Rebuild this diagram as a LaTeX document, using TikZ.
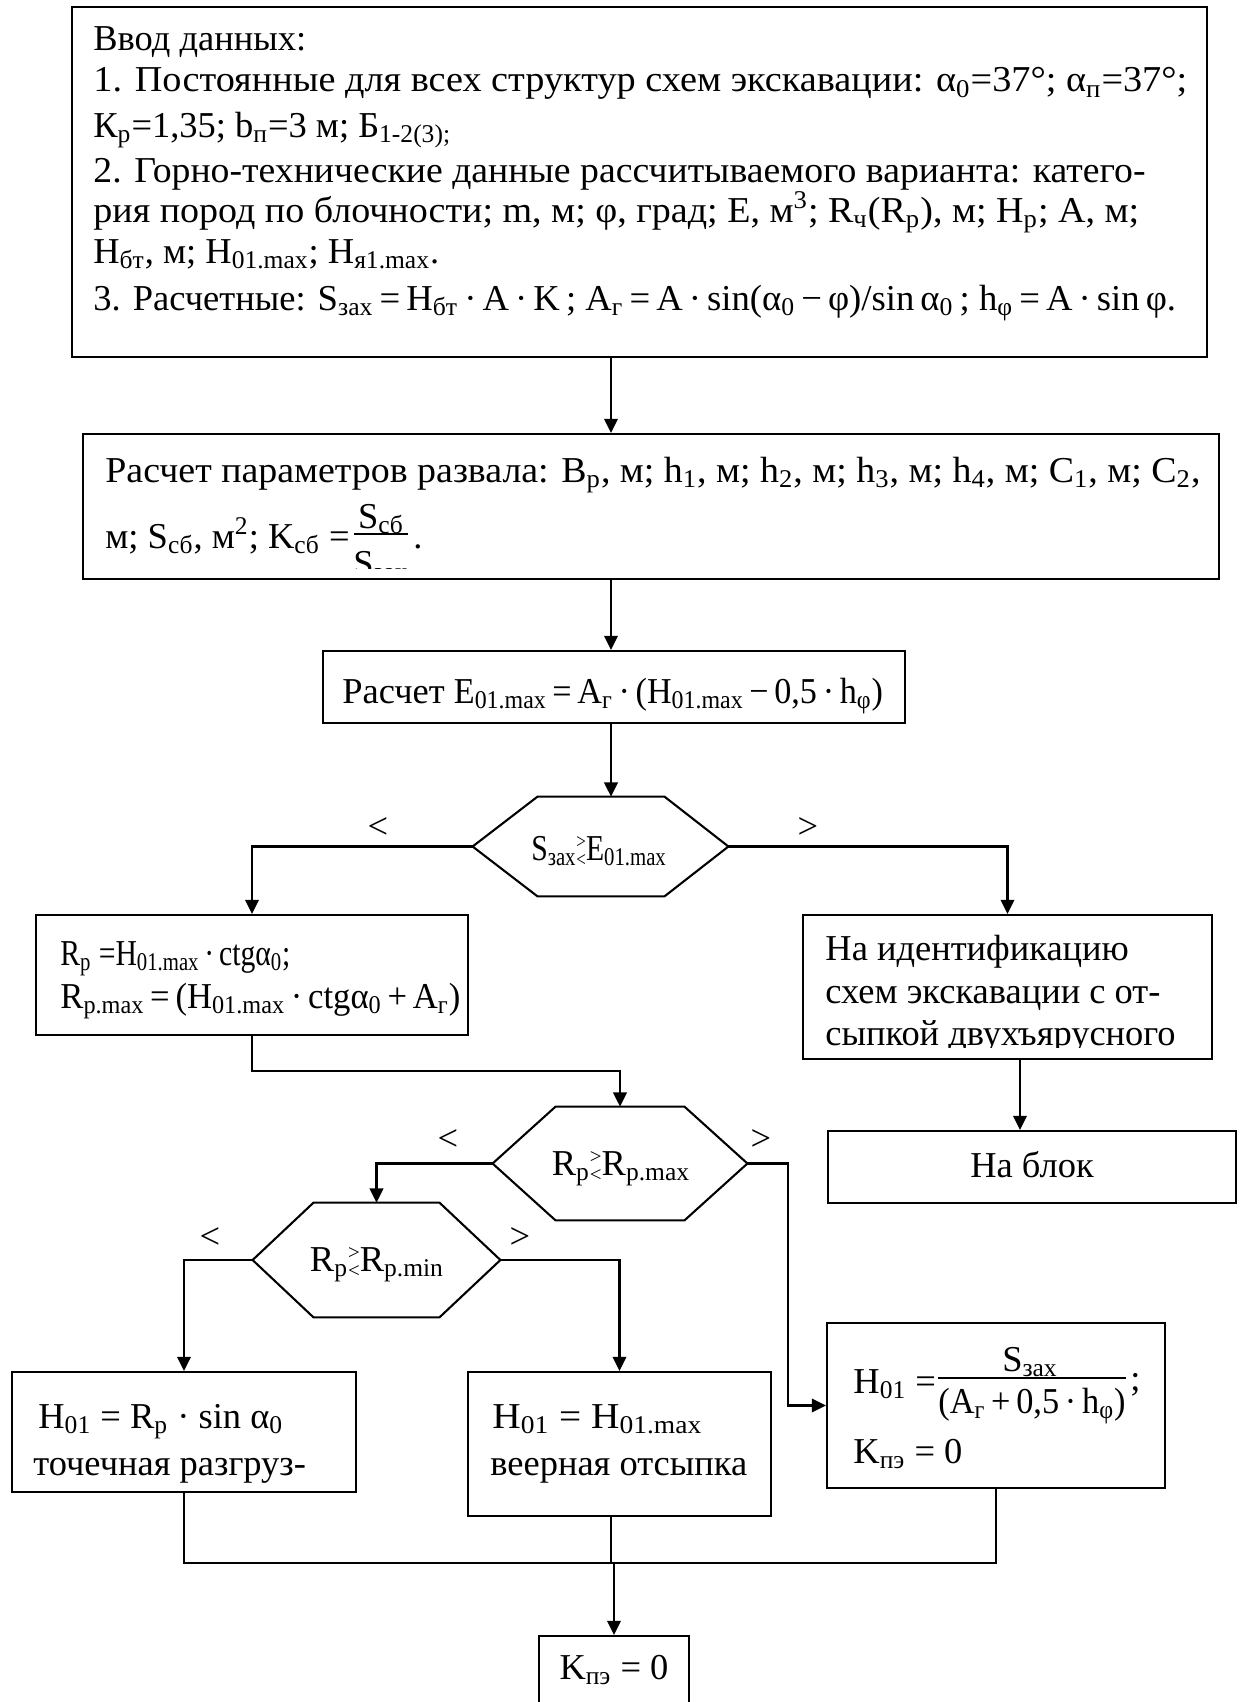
\documentclass[tikz,border=0pt]{standalone}
\usepackage{fontspec}
\setmainfont{Liberation Serif}
\usetikzlibrary{fit,calc,arrows.meta}
\newcommand\sbs[1]{\textsubscript{#1}}
\newcommand\sps[1]{\textsuperscript{#1}}
% stacked comparison sign: ">" above "<"
\newcommand\gtlt{\raisebox{-3.2pt}{\fontsize{10}{10}\selectfont\shortstack{>\\<}}}
% fit a line or formula to a given width, keeping its height
\newcommand\fitw[2]{\resizebox{#1}{\height}{#2}}
\tikzset{
  frame/.style={draw, line width=1pt, inner sep=0pt},
  txt/.style={anchor=base west, inner sep=0pt, font=\fontsize{17.5}{21}\selectfont},
  ctxt/.style={anchor=base, inner sep=0pt, font=\fontsize{17.5}{21}\selectfont},
  conn/.style={line width=1pt},
  thinconn/.style={line width=0.5pt},
  arr/.style={line width=1pt, -{Triangle[length=6.8pt,width=6.5pt]}},
  sign/.style={anchor=center, inner sep=0pt, font=\fontsize{17.5}{21}\selectfont},
}
\begin{document}
\begin{tikzpicture}[x=0.48pt, y=-0.48pt]
\useasboundingbox (0,0) rectangle (1240,1702);
\fill[white] (0,0) rectangle (1240,1702);

% guide columns for off-centre connectors
\coordinate (c1) at (611,0);
\coordinate (v2) at (788,0);
\coordinate (v3) at (1020,0);
\coordinate (j1) at (0,1071);
\coordinate (j2) at (0,1563);

% ---------- input data ----------
\node[frame, fit={(72,7) (1207,357)}] (b1) {};
\node[txt] (t1a) at (93,51)  {Ввод данных:};
\node[txt] (t1b) at (93,92)  {\fitw{525pt}{1. Постоянные для всех структур схем экскавации: α\sbs{0}=37°; α\sbs{п}=37°;}};
\node[txt] (t1c) at (93,137) {К\sbs{р}=1,35; b\sbs{п}=3 м; Б\sbs{1-2(3);}};
\node[txt] (t1d) at (93,182) {\fitw{505pt}{2. Горно-технические данные рассчитываемого варианта: катего-}};
\node[txt] (t1e) at (93,222) {\fitw{502pt}{рия пород по блочности; m, м; φ, град; E, м\sps{3}; R\sbs{ч}(R\sbs{р}), м; H\sbs{р}; A, м;}};
\node[txt] (t1f) at (93,263) {H\sbs{бт}, м; H\sbs{01.max}; H\sbs{я1.max}.};
\node[txt] (t1g) at (93,310) {3. Расчетные: \fitw{412pt}{S\sbs{зах}\,=\,H\sbs{бт}\,·\,A\,·\,K\,; A\sbs{г}\,=\,A\,·\,sin(α\sbs{0}\,−\,φ)/sin\,α\sbs{0}\,; h\sbs{φ}\,=\,A\,·\,sin\,φ.}};

% ---------- pile parameters ----------
\node[frame, fit={(83,434) (1219,579)}] (b2) {};
\node[txt] (t2a) at (105,482) {\fitw{525.6pt}{Расчет параметров развала: B\sbs{р}, м; h\sbs{1}, м; h\sbs{2}, м; h\sbs{3}, м; h\sbs{4}, м; C\sbs{1}, м; C\sbs{2},}};
\node[txt] (t2b) at (105,548) {м; S\sbs{сб}, м\sps{2}; K\sbs{сб} =};
\node[ctxt] (t2n) at (381,528) {S\sbs{сб}};
\draw[line width=0.7pt] (354,534) -- (408,534);
\node[txt] (t2p) at (413,548) {.};
\begin{scope}
  \clip (340,540) rectangle (420,568);
  \node[ctxt] (t2d) at (381,575) {S\sbs{зах}};
\end{scope}

% ---------- E_01.max ----------
\node[frame, fit={(323,651) (905,723)}] (b3) {};
\node[txt] (t3) at (342,703) {Расчет \fitw{206pt}{E\sbs{01.max}\,=\,A\sbs{г}\,·\,(H\sbs{01.max}\,−\,0,5\,·\,h\sbs{φ})}};

% ---------- decision 1 ----------
\node[inner sep=0pt, fit={(473,797) (728,896)}] (h1) {};
\draw[conn] (h1.west) -- ($(h1.north west)+(65,0)$) -- ($(h1.north east)+(-64,0)$) -- (h1.east)
  -- ($(h1.south east)+(-64,0)$) -- ($(h1.south west)+(65,0)$) -- cycle;
\node[ctxt] (th1) at (599,860) {\fitw{65pt}{S\sbs{зах}\gtlt E\sbs{01.max}}};
\node[sign] (l1) at (378,828) {<};
\node[sign] (g1) at (808,828) {>};

% ---------- left: R_p ----------
\node[frame, fit={(36,915) (468,1035)}] (b4) {};
\node[txt] (t4a) at (60,965)  {\fitw{110.4pt}{R\sbs{p} =H\sbs{01.max}\,·\,ctgα\sbs{0};}};
\node[txt] (t4b) at (60,1008) {\fitw{192pt}{R\sbs{p.max}\,=\,(H\sbs{01.max}\,·\,ctgα\sbs{0}\,+\,A\sbs{г})}};

% ---------- right: identification ----------
\node[frame, fit={(803,915) (1212,1059)}] (b5) {};
\node[txt] (t5a) at (825,960)  {На идентификацию};
\node[txt] (t5b) at (825,1003) {схем экскавации с от-};
\begin{scope}
  \clip (810,1010) rectangle (1205,1047);
  \node[txt] (t5c) at (825,1045) {сыпкой двухъярусного};
\end{scope}

\node[frame, fit={(828,1131) (1236,1203)}] (b6b) {};
\node[ctxt] (t6b) at (1032,1177) {На блок};

% ---------- decision 2 ----------
\node[inner sep=0pt, fit={(493,1107) (747,1220)}] (h2) {};
\draw[conn] (h2.west) -- ($(h2.north west)+(63,0)$) -- ($(h2.north east)+(-63,0)$) -- (h2.east)
  -- ($(h2.south east)+(-63,0)$) -- ($(h2.south west)+(63,0)$) -- cycle;
\node[ctxt] (th2) at (621,1175) {R\sbs{p}\gtlt R\sbs{p.max}};
\node[sign] (l2) at (448,1140) {<};
\node[sign] (g2) at (761,1140) {>};

% ---------- decision 3 ----------
\node[inner sep=0pt, fit={(253,1203) (500,1317)}] (h3) {};
\draw[conn] (h3.west) -- ($(h3.north west)+(61,0)$) -- ($(h3.north east)+(-61,0)$) -- (h3.east)
  -- ($(h3.south east)+(-61,0)$) -- ($(h3.south west)+(61,0)$) -- cycle;
\node[ctxt] (th3) at (377,1271) {R\sbs{p}\gtlt R\sbs{p.min}};
\node[sign] (l3) at (210,1238) {<};
\node[sign] (g3) at (520,1238) {>};

% ---------- results ----------
\node[frame, fit={(12,1372) (356,1492)}] (b7) {};
\node[txt] (t7a) at (38,1428) {H\sbs{01} = R\sbs{p} · sin α\sbs{0}};
\node[txt] (t7b) at (33,1475) {точечная разгруз-};

\node[frame, fit={(468,1372) (771,1516)}] (b8) {};
\node[txt] (t8a) at (492,1428) {\fitw{100.8pt}{H\sbs{01} = H\sbs{01.max}}};
\node[txt] (t8b) at (490,1475) {веерная отсыпка};

\node[frame, fit={(827,1323) (1165,1488)}] (b9) {};
\node[txt] (t9a) at (853,1393) {H\sbs{01} =};
\node[ctxt] (t9n) at (1030,1371) {S\sbs{зах}};
\draw[line width=0.7pt] (938,1378) -- (1126,1378);
\node[ctxt] (t9d) at (1032,1413) {\fitw{89.8pt}{(A\sbs{г}\,+\,0,5\,·\,h\sbs{φ})}};
\node[txt] (t9s) at (1130,1390) {;};
\node[txt] (t9b) at (853,1463) {K\sbs{пэ} = 0};

\node[frame, fit={(539,1636) (689,1740)}] (b10) {};
\node[ctxt] (t10) at (614,1679) {K\sbs{пэ} = 0};

% ---------- connectors ----------
\draw[arr] (b1.south -| c1) -- (b2.north -| c1);
\draw[arr] (b2.south -| c1) -- (b3.north -| c1);
\draw[arr] (b3.south -| c1) -- (h1.north -| c1);
\draw[arr] (h1.west) -| (b4.north);
\draw[arr] (h1.east) -| (b5.north);
\draw[arr] (b5.south -| v3) -- (b6b.north -| v3);
\draw[arr] (b4.south) |- (j1 -| h2.north) -- (h2.north);
\draw[arr] (h2.west) -| (h3.north);
\draw[arr] (h2.east) -| (v2 |- b9.west) -- (b9.west);
\draw[arr] (h3.west) -| (b7.north);
\draw[arr] (h3.east) -| (b8.north);
\draw[conn] (b7.south) |- (j2 -| b10.north);
\draw[conn] (b9.south) |- (j2 -| b10.north);
\draw[thinconn] (b8.south -| c1) -- (j2 -| c1);
\draw[arr] (j2 -| b10.north) -- (b10.north);
\end{tikzpicture}
\end{document}
